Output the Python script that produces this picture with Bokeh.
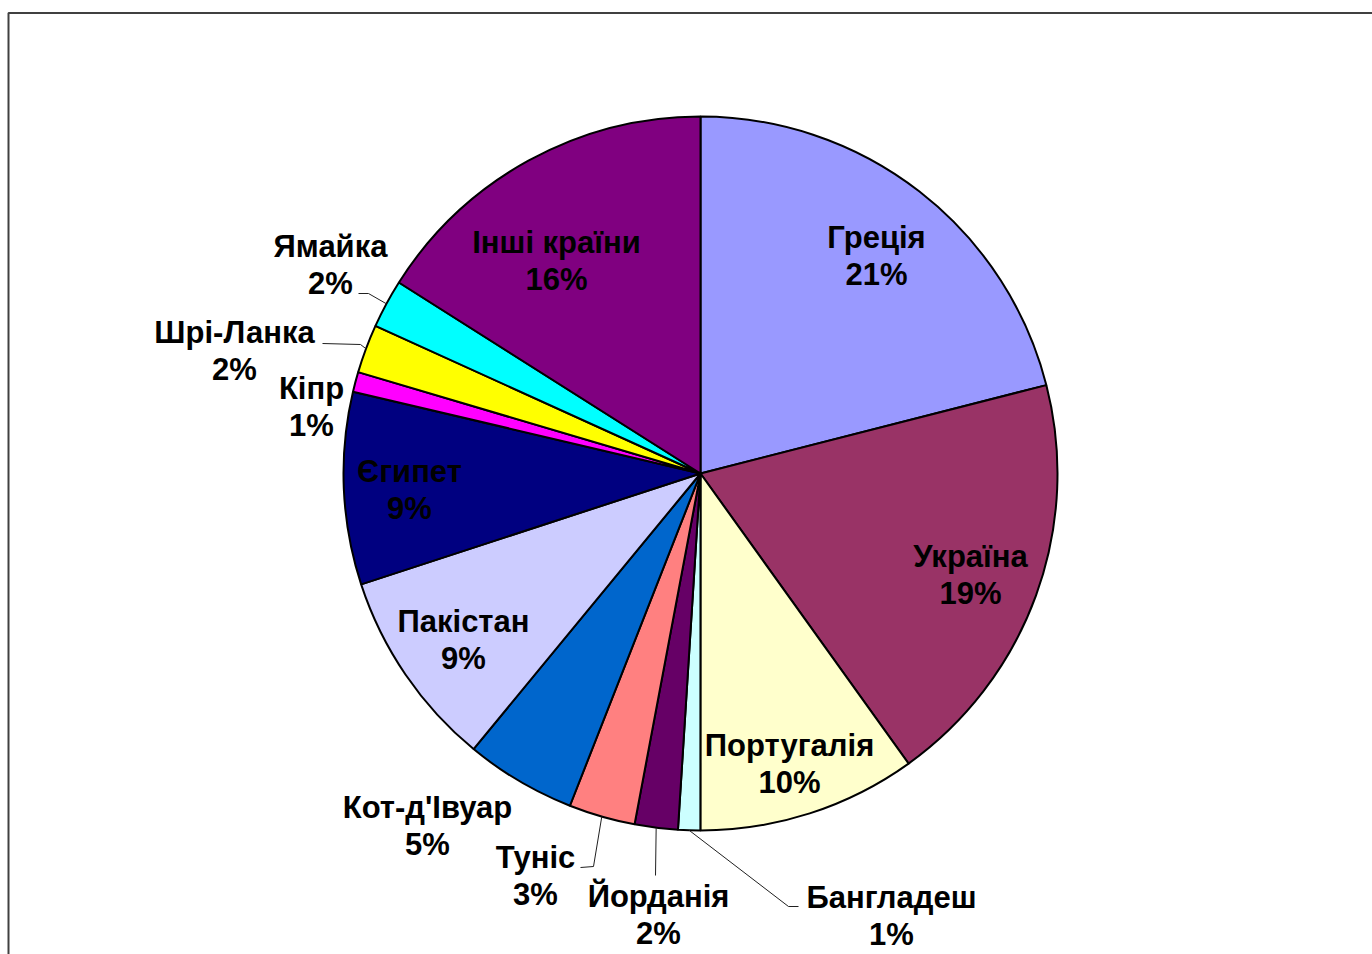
import numpy as np
from bokeh.plotting import figure
from bokeh.models import Range1d, ColumnDataSource
from bokeh.core.properties import value
from bokeh.embed import file_html
from bokeh.resources import INLINE

# ---------------- data ----------------
countries = ["Греція", "Україна", "Португалія", "Бангладеш", "Йорданія", "Туніс",
             "Кот-д'Івуар", "Пакістан", "Єгипет", "Кіпр", "Шрі-Ланка", "Ямайка",
             "Інші країни"]
shares = [21.0, 19.06, 9.9, 1.0, 1.95, 3.0, 5.0, 9.0, 8.7, 0.9, 2.2, 2.2, 16.0]
colors = ["#9999FF", "#993366", "#FFFFCC", "#CCFFFF", "#660066", "#FF8080",
          "#0066CC", "#CCCCFF", "#000080", "#FF00FF", "#FFFF00", "#00FFFF",
          "#800080"]

# ---------------- layout (picture pixel coordinates) ----------------
W, H = 1372, 954
CX, CY_PAGE, R = 700, 473, 357
# centre of the name line of each label
label_pos = [(876, 237), (970, 556), (789, 745), (891, 897), (658, 896), (535, 857),
             (427, 807), (463, 621), (409, 471), (311, 388), (234, 332), (330, 246),
             (556, 242)]
LINE_GAP = 36.5
# leader lines: label-side points, ending at slice arc midpoint
leaders = {
    3: [(798, 906), (788, 906)],
    4: [(655, 875)],
    5: [(580, 867), (593, 866)],
    10: [(322, 343), (360, 344)],
    11: [(358, 293), (368, 293)],
}


def py(y):
    return H - y


total = sum(shares)
fr = np.array(shares) / total
cum = np.concatenate([[0], np.cumsum(fr)])
start = np.pi / 2 - 2 * np.pi * cum[:-1]
end = np.pi / 2 - 2 * np.pi * cum[1:]
mid = (start + end) / 2
pct = [f"{int(round(f * 100))}%" for f in fr]

cx, cy = CX, py(CY_PAGE)

p = figure(width=W, height=H, output_backend="svg", toolbar_location=None,
           x_range=Range1d(0, W), y_range=Range1d(0, H), min_border=0)
p.axis.visible = False
p.grid.visible = False
p.outline_line_color = None
p.background_fill_color = "white"
p.border_fill_color = "white"

# frame
p.line(x=[8, 8, W], y=[0, py(12.5), py(12.5)], line_color="#404040", line_width=2)

src = ColumnDataSource(dict(start=start, end=end, color=colors))
p.wedge(x=cx, y=cy, radius=R, start_angle="start", end_angle="end", direction="clock",
        fill_color="color", line_color="black", line_width=2, source=src)

# leader lines
xs, ys = [], []
for i, pts in leaders.items():
    ax = cx + R * np.cos(mid[i])
    ay = cy + R * np.sin(mid[i])
    xs.append([pt[0] for pt in pts] + [ax])
    ys.append([py(pt[1]) for pt in pts] + [ay])
p.multi_line(xs=xs, ys=ys, line_color="#202020", line_width=1)

# labels
lx = [q[0] for q in label_pos]
ly1 = [py(q[1]) for q in label_pos]
ly2 = [py(q[1] + LINE_GAP) for q in label_pos]
common = dict(text_font=value("Liberation Sans"), text_font_style="bold",
              text_font_size="31px", text_align="center", text_baseline="middle",
              text_color="black")
p.text(x=lx, y=ly1, text=countries, **common)
p.text(x=lx, y=ly2, text=pct, **common)

open("out.html", "w").write(file_html(p, INLINE))
